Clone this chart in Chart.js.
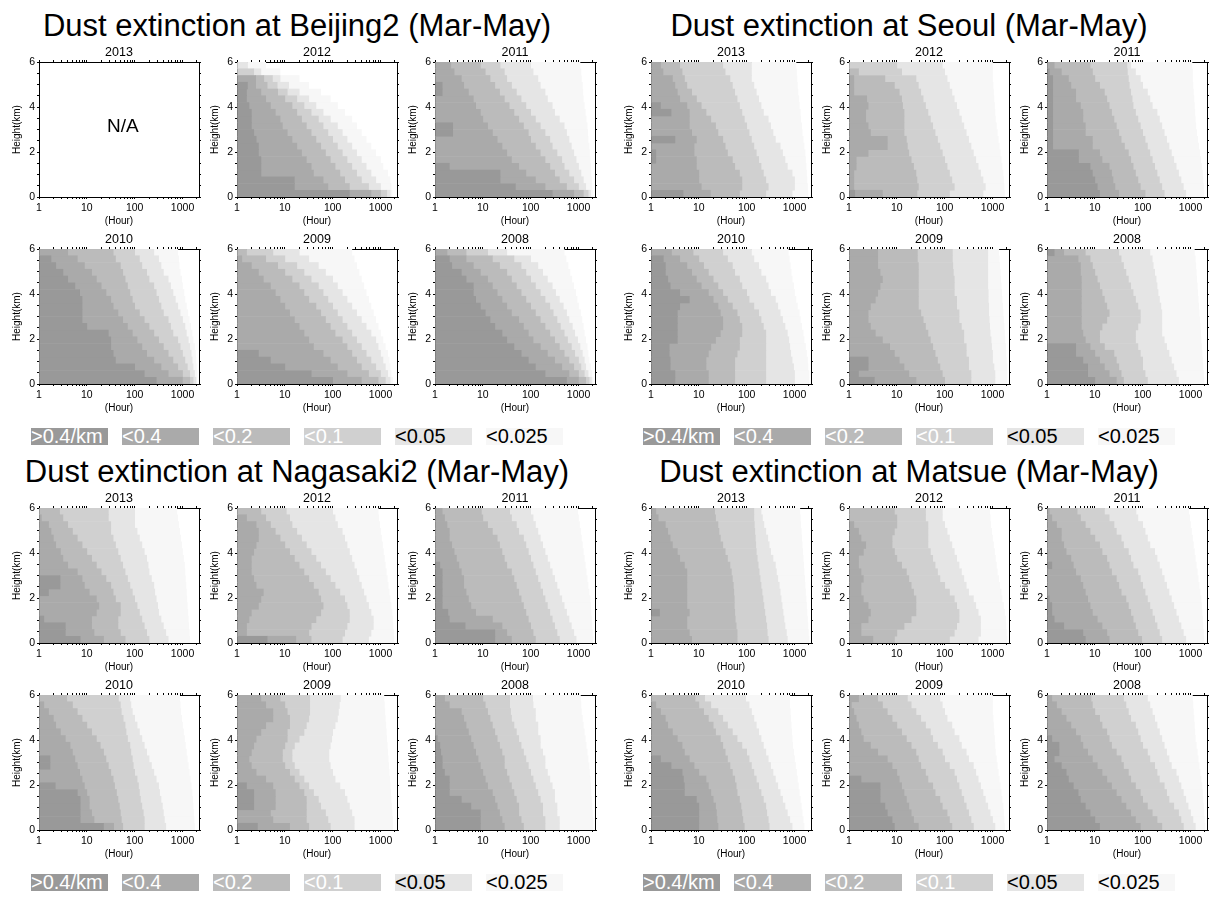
<!DOCTYPE html>
<html>
<head>
<meta charset="utf-8">
<script src="https://cdn.jsdelivr.net/npm/chart.js@4.4.1/dist/chart.umd.min.js"></script>
<style>
body { margin: 0; background: #fff; font-family: "Liberation Sans", Arial, sans-serif; }
#page { position: relative; width: 1211px; height: 897px; overflow: hidden; background: #fff; }
#page canvas { position: absolute; }
.title { position: absolute; width: 640px; text-align: center; font-size: 31px; line-height: 31px; white-space: nowrap; color: #000; }
.key { position: absolute; width: 77px; height: 17px; font-size: 20px; line-height: 17px; white-space: nowrap; overflow: visible; }
.na { position: absolute; font-size: 19px; line-height: 19px; color: #000; }
</style>
</head>
<body>
<div id="page"></div>
<script>
const stations = ["Beijing2", "Seoul", "Nagasaki2", "Matsue"];
const years = ["2013", "2012", "2011", "2010", "2009", "2008"];
const levelLabels = [">0.4/km", "<0.4", "<0.2", "<0.1", "<0.05", "<0.025"];
const levelColors = ["#999999", "#aaaaaa", "#bbbbbb", "#d0d0d0", "#e5e5e5", "#f7f7f7"];
const levelTextColors = ["#fff", "#fff", "#fff", "#fff", "#000", "#000"];
// centre of each 0.3 km height bin (km)
const heights = [0.15, 0.45, 0.75, 1.05, 1.35, 1.65, 1.95, 2.25, 2.55, 2.85,
                 3.15, 3.45, 3.75, 4.05, 4.35, 4.65, 4.95, 5.25, 5.55, 5.85];
const hourTicks = [1, 10, 100, 1000];
const heightTicks = [0, 2, 4, 6];
const hourMax = 2208;   // hours in Mar-May

// each panel: hours (as log10) where the shade ends, per height bin bottom -> top
// rows: >0.4, >0.2, >0.1, >0.05, >0.025, all observed hours
const beijing2012 = [
  [2.35,1.2,1.2,0.5,0.5,0.5,0.45,0.45,0.4,0.35, 0.3,0.3,0.3,0.25,0.2,0.2,0.22,0,0,0],
  [2.8,1.9,1.8,1.6,1.55,1.45,1.35,1.25,1.15,1.05, 0.95,0.9,0.8,0.7,0.6,0.5,0.39,0.39,0,0],
  [3.0,2.35,2.25,2.15,2.05,1.95,1.85,1.75,1.65,1.55, 1.45,1.35,1.25,1.15,1.0,0.85,0.63,0.56,0,0],
  [3.13,2.75,2.6,2.5,2.4,2.3,2.2,2.1,2.0,1.9, 1.8,1.7,1.55,1.4,1.25,1.05,0.84,0.74,0.35,0],
  [3.2,3.0,2.9,2.8,2.7,2.6,2.5,2.4,2.3,2.2, 2.1,1.95,1.8,1.65,1.5,1.3,1.08,0.9,0.5,0.22],
  [3.24,3.22,3.2,3.15,3.05,3.0,2.9,2.8,2.7,2.6, 2.5,2.4,2.25,2.1,1.95,1.75,1.5,1.3,0.9,0.6]
];
const beijing2011 = [
  [2.45,1.68,1.36,1.36,0.3,0,0,0,0,0.37, 0.37,0,0,0,0,0.15,0.15,0,0,0],
  [2.9,2.3,2.1,1.9,1.75,1.6,1.5,1.4,1.3,1.2, 1.1,1.0,0.95,0.85,0.8,0.7,0.6,0.55,0.4,0.33],
  [3.1,2.75,2.6,2.5,2.4,2.3,2.2,2.1,2.0,1.95, 1.85,1.75,1.65,1.55,1.45,1.35,1.25,1.15,1.05,0.95],
  [3.2,3.0,2.9,2.8,2.7,2.65,2.55,2.45,2.4,2.3, 2.2,2.1,2.0,1.9,1.8,1.7,1.6,1.5,1.45,1.36],
  [3.25,3.15,3.1,3.05,3.0,2.95,2.9,2.85,2.8,2.75, 2.7,2.6,2.5,2.45,2.35,2.3,2.2,2.15,2.05,2.0],
  [3.3,3.28,3.27,3.26,3.25,3.24,3.23,3.22,3.2,3.19, 3.18,3.16,3.14,3.12,3.1,3.09,3.08,3.06,3.05,3.03]
];
const beijing2010 = [
  [2.45,2.2,2.0,1.6,1.55,1.5,1.5,1.45,1.0,0.9, 0.9,0.9,0.9,0.85,0.75,0.6,0.5,0.35,0.25,0],
  [3.0,2.7,2.55,2.4,2.25,2.15,2.05,1.95,1.85,1.75, 1.65,1.55,1.5,1.4,1.3,1.2,1.1,0.95,0.8,0.6],
  [3.15,3.0,2.9,2.8,2.7,2.6,2.5,2.4,2.3,2.2, 2.1,2.0,1.95,1.9,1.85,1.8,1.75,1.7,1.6,1.55],
  [3.22,3.15,3.1,3.05,3.0,2.95,2.9,2.8,2.75,2.7, 2.6,2.55,2.5,2.45,2.4,2.3,2.25,2.15,2.1,2.0],
  [3.28,3.25,3.22,3.2,3.18,3.15,3.12,3.08,3.05,3.0, 2.95,2.9,2.85,2.8,2.75,2.7,2.6,2.55,2.5,2.4],
  [3.3,3.3,3.29,3.28,3.27,3.25,3.22,3.2,3.17,3.14, 3.11,3.08,3.05,3.03,3.0,2.98,2.95,2.93,2.92,2.9]
];
const beijing2009 = [
  [2.0,1.55,1.0,0.7,0.45,0,0,0,0,0, 0,0,0,0,0,0,0,0,0,0],
  [2.6,2.3,2.1,1.95,1.8,1.6,1.5,1.4,1.3,1.2, 1.1,1.0,0.9,0.8,0.7,0.55,0.45,0.3,0.1,0],
  [2.95,2.75,2.6,2.5,2.4,2.3,2.2,2.05,1.95,1.85, 1.75,1.65,1.5,1.4,1.3,1.15,1.0,0.85,0.6,0.2],
  [3.1,3.0,2.9,2.8,2.7,2.6,2.5,2.4,2.3,2.2, 2.1,2.0,1.9,1.8,1.7,1.55,1.4,1.25,1.0,0.75],
  [3.2,3.15,3.1,3.05,3.0,2.95,2.9,2.8,2.7,2.6, 2.5,2.4,2.3,2.2,2.1,2.0,1.85,1.7,1.5,1.3],
  [3.25,3.22,3.2,3.18,3.15,3.1,3.05,3.0,2.95,2.9, 2.85,2.8,2.75,2.7,2.65,2.6,2.55,2.5,2.45,2.4]
];
const beijing2008 = [
  [2.75,2.3,2.1,1.95,1.8,1.65,1.5,1.4,1.25,1.15, 1.05,0.95,0.85,0.8,0.8,0.65,0.55,0.35,0.3,0],
  [3.0,2.8,2.65,2.5,2.35,2.2,2.05,1.95,1.85,1.75, 1.6,1.5,1.4,1.3,1.2,1.1,0.95,0.8,0.65,0.25],
  [3.15,3.0,2.9,2.8,2.7,2.6,2.5,2.4,2.3,2.2, 2.1,2.0,1.9,1.8,1.7,1.6,1.5,1.35,1.2,0.65],
  [3.22,3.12,3.05,3.0,2.92,2.85,2.77,2.7,2.62,2.55, 2.47,2.4,2.3,2.2,2.1,2.0,1.9,1.8,1.65,1.1],
  [3.27,3.2,3.15,3.12,3.08,3.03,2.98,2.92,2.87,2.8, 2.75,2.68,2.6,2.52,2.45,2.35,2.25,2.15,2.0,1.5],
  [3.3,3.28,3.25,3.22,3.2,3.18,3.15,3.12,3.1,3.07, 3.04,3.0,2.97,2.94,2.9,2.86,2.82,2.78,2.74,2.7]
];
const seoul2013 = [
  [0.67,0,0,0,0,0.1,0.1,0,0.5,0, 0,0,0.42,0.2,0,0,0,0,0,0],
  [1.24,1.05,1.0,1.0,0.95,0.95,0.9,0.9,0.95,0.85, 0.8,0.8,0.8,0.75,0.6,0.55,0.5,0.45,0.25,0.2],
  [1.85,1.9,1.9,1.85,1.75,1.7,1.6,1.55,1.5,1.4, 1.35,1.25,1.15,1.05,0.95,0.85,0.75,0.7,0.65,0.6],
  [2.4,2.45,2.4,2.35,2.3,2.25,2.2,2.15,2.1,2.05, 2.0,1.95,1.9,1.85,1.8,1.75,1.7,1.65,1.55,1.5],
  [2.95,3.0,3.0,2.95,2.85,2.8,2.75,2.7,2.6,2.55, 2.5,2.45,2.35,2.3,2.25,2.2,2.15,2.1,2.1,2.1],
  [3.28,3.27,3.26,3.25,3.24,3.23,3.22,3.2,3.18,3.16, 3.15,3.13,3.12,3.1,3.09,3.07,3.06,3.05,3.04,3.03]
];
const seoul2012 = [
  [0.12,0,0,0,0,0,0,0,0,0, 0,0,0,0,0,0,0,0,0,0],
  [0.7,0.1,0.1,0.1,0.15,0.15,0.4,0.8,0.8,0.45, 0.4,0.35,0.35,0.4,0.37,0.1,0.1,0.1,0,0],
  [1.42,1.45,1.42,1.4,1.35,1.3,1.25,1.22,1.2,1.15, 1.15,1.15,1.15,1.12,1.1,1.05,0.95,0.75,0.2,0],
  [2.1,2.2,2.15,2.1,2.05,2.0,1.95,1.9,1.85,1.8, 1.75,1.7,1.65,1.6,1.55,1.5,1.45,1.4,1.1,1.0],
  [2.8,2.85,2.8,2.75,2.7,2.65,2.6,2.55,2.5,2.45, 2.4,2.35,2.3,2.25,2.2,2.15,2.1,2.05,2.0,1.95],
  [3.25,3.24,3.23,3.22,3.2,3.18,3.16,3.14,3.12,3.1, 3.08,3.06,3.05,3.04,3.03,3.02,3.01,3.0,3.0,3.0]
];
const seoul2011 = [
  [1.1,1.05,1.0,0.95,0.9,0.66,0.66,0.12,0.12,0.12, 0.12,0.12,0.12,0.12,0.12,0.12,0.12,0.12,0.05,0],
  [1.5,1.42,1.38,1.35,1.3,1.15,1.1,0.95,0.95,0.8, 0.8,0.75,0.75,0.7,0.6,0.6,0.5,0.45,0.3,0.15],
  [2.05,1.95,1.9,1.85,1.8,1.75,1.7,1.62,1.55,1.5, 1.45,1.4,1.35,1.3,1.25,1.2,1.1,1.0,0.95,0.9],
  [2.45,2.4,2.35,2.3,2.25,2.2,2.15,2.1,2.05,2.0, 1.95,1.9,1.85,1.8,1.78,1.75,1.72,1.7,1.68,1.67],
  [2.9,2.85,2.8,2.75,2.7,2.65,2.6,2.55,2.5,2.45, 2.4,2.35,2.3,2.2,2.15,2.1,2.0,1.95,1.85,1.75],
  [3.28,3.27,3.26,3.25,3.23,3.21,3.19,3.17,3.15,3.13, 3.11,3.1,3.09,3.08,3.07,3.06,3.05,3.04,3.04,3.03]
];
const seoul2010 = [
  [0.5,0.5,0.4,0.4,0.38,0.38,0.55,0.55,0.55,0.55, 0.55,0.6,0.8,0.6,0.4,0.35,0.3,0.3,0.26,0],
  [1.2,1.2,1.15,1.15,1.2,1.25,1.35,1.45,1.5,1.5, 1.45,1.4,1.3,1.2,1.05,0.95,0.85,0.75,0.6,0.43],
  [1.75,1.75,1.75,1.75,1.8,1.85,1.85,1.9,1.9,1.85, 1.8,1.7,1.6,1.5,1.4,1.3,1.2,1.1,1.0,0.88],
  [2.4,2.4,2.4,2.4,2.4,2.4,2.4,2.4,2.35,2.3, 2.25,2.15,2.05,2.0,1.9,1.85,1.75,1.7,1.6,1.5],
  [3.0,3.0,2.98,2.95,2.92,2.9,2.88,2.85,2.8,2.75, 2.7,2.65,2.6,2.5,2.45,2.4,2.3,2.25,2.15,2.1],
  [3.3,3.3,3.28,3.27,3.25,3.23,3.2,3.18,3.15,3.12, 3.1,3.06,3.03,3.0,2.98,2.95,2.93,2.91,2.89,2.87]
];
const seoul2009 = [
  [0.53,0.2,0.4,0.4,0,0,0,0,0,0, 0,0,0,0,0,0,0,0,0,0],
  [1.4,1.25,1.15,1.05,0.95,0.85,0.7,0.55,0.45,0.4, 0.4,0.45,0.55,0.6,0.65,0.7,0.65,0.6,0.6,0.6],
  [2.0,1.95,1.9,1.85,1.8,1.75,1.7,1.65,1.6,1.55, 1.5,1.45,1.45,1.45,1.45,1.45,1.45,1.45,1.43,1.43],
  [2.55,2.55,2.5,2.5,2.45,2.45,2.4,2.4,2.35,2.3, 2.3,2.25,2.25,2.2,2.2,2.2,2.18,2.17,2.16,2.16],
  [3.05,3.05,3.03,3.0,3.0,2.98,2.97,2.95,2.94,2.93, 2.92,2.92,2.91,2.91,2.9,2.9,2.9,2.9,2.9,2.9],
  [3.3,3.3,3.3,3.29,3.28,3.27,3.26,3.25,3.24,3.23, 3.22,3.21,3.2,3.19,3.18,3.17,3.16,3.15,3.14,3.13]
];
const seoul2008 = [
  [1.0,0.85,0.85,0.75,0.6,0.6,0,0,0,0, 0,0,0,0,0,0,0,0,0,0.15],
  [1.45,1.3,1.2,1.1,1.0,0.9,0.8,0.75,0.72,0.72, 0.72,0.72,0.72,0.72,0.72,0.72,0.7,0.7,0.65,0.35],
  [1.6,1.55,1.5,1.45,1.4,1.2,1.1,1.1,1.15,1.25, 1.3,1.25,1.2,1.15,1.1,1.05,1.0,0.95,0.9,0.8],
  [2.1,2.05,2.0,2.0,1.95,1.9,1.85,1.85,1.9,1.95, 1.95,1.9,1.85,1.8,1.75,1.7,1.65,1.6,1.55,1.5],
  [2.75,2.7,2.65,2.6,2.55,2.5,2.45,2.4,2.4,2.4, 2.4,2.38,2.35,2.32,2.3,2.28,2.25,2.22,2.2,2.15],
  [3.28,3.27,3.26,3.25,3.24,3.23,3.22,3.21,3.2,3.19, 3.18,3.17,3.16,3.15,3.14,3.13,3.12,3.11,3.1,3.08]
];
const nagasaki2013 = [
  [0.86,0.55,0.55,0.1,0,0,0,0.2,0.44,0.44, 0,0,0,0,0,0,0,0,0,0],
  [1.35,1.15,1.1,1.1,1.2,1.25,1.2,1.05,0.95,0.9, 0.8,0.6,0.5,0.45,0.35,0.3,0.25,0.2,0.05,0],
  [1.8,1.7,1.65,1.65,1.7,1.7,1.6,1.55,1.5,1.4, 1.3,1.2,1.1,1.0,0.9,0.8,0.7,0.6,0.5,0.43],
  [2.3,2.25,2.2,2.15,2.1,2.05,2.0,1.95,1.9,1.85, 1.8,1.75,1.7,1.65,1.6,1.55,1.5,1.5,1.45,1.45],
  [2.7,2.65,2.6,2.55,2.5,2.48,2.45,2.42,2.4,2.35, 2.3,2.28,2.25,2.2,2.15,2.1,2.05,2.0,2.0,2.0],
  [3.15,3.14,3.13,3.12,3.11,3.1,3.09,3.08,3.07,3.06, 3.05,3.04,3.02,3.0,2.98,2.96,2.94,2.92,2.9,2.88]
];
const nagasaki2012 = [
  [0.63,0,0,0,0,0,0,0,0,0, 0,0,0,0,0,0,0,0,0,0],
  [1.23,0.2,0.2,0.25,0.3,0.45,0.5,0.55,0.4,0.35, 0.3,0.3,0.3,0.35,0.4,0.45,0.45,0.4,0.2,0],
  [1.55,1.5,1.55,1.65,1.75,1.8,1.75,1.7,1.6,1.5, 1.4,1.3,1.2,1.1,1.0,0.9,0.8,0.7,0.6,0.5],
  [2.2,2.25,2.3,2.35,2.35,2.3,2.25,2.15,2.05,1.95, 1.85,1.75,1.65,1.55,1.45,1.35,1.25,1.15,1.1,1.03],
  [2.75,2.8,2.85,2.85,2.8,2.75,2.7,2.65,2.6,2.55, 2.5,2.45,2.4,2.35,2.3,2.25,2.2,2.1,2.05,2.0],
  [3.28,3.27,3.26,3.25,3.24,3.22,3.2,3.18,3.16,3.14, 3.12,3.1,3.08,3.06,3.04,3.02,3.0,2.98,2.96,2.95]
];
const nagasaki2011 = [
  [1.25,1.25,0.63,0.3,0.27,0.15,0.15,0.15,0.15,0.15, 0.15,0.1,0,0,0,0,0,0,0,0],
  [1.6,1.5,1.4,1.2,0.85,0.75,0.7,0.65,0.6,0.6, 0.55,0.5,0.45,0.4,0.35,0.3,0.3,0.25,0.2,0.15],
  [2.1,2.05,2.0,1.95,1.9,1.85,1.8,1.75,1.7,1.65, 1.6,1.5,1.45,1.4,1.35,1.3,1.2,1.1,1.0,0.97],
  [2.6,2.55,2.5,2.45,2.4,2.35,2.3,2.25,2.2,2.15, 2.1,2.05,2.0,1.95,1.9,1.85,1.75,1.7,1.6,1.56],
  [2.95,2.9,2.85,2.8,2.75,2.7,2.65,2.6,2.55,2.5, 2.45,2.4,2.35,2.3,2.25,2.2,2.15,2.1,2.05,2.0],
  [3.3,3.29,3.28,3.27,3.26,3.25,3.24,3.22,3.2,3.18, 3.16,3.14,3.12,3.1,3.08,3.06,3.04,3.02,3.0,2.98]
];
const nagasaki2010 = [
  [1.35,0.86,0.86,0.86,0.86,0.8,0.34,0,0,0.23, 0.23,0,0,0,0,0,0,0,0,0],
  [1.56,1.15,1.1,1.05,1.05,1.0,0.95,0.9,0.85,0.8, 0.75,0.7,0.65,0.55,0.45,0.35,0.3,0.2,0.1,0],
  [1.75,1.72,1.7,1.68,1.65,1.62,1.58,1.55,1.5,1.45, 1.4,1.35,1.28,1.2,1.1,1.0,0.9,0.8,0.7,0.58],
  [2.2,2.2,2.18,2.15,2.12,2.1,2.08,2.05,2.0,1.97, 1.95,1.92,1.9,1.85,1.82,1.8,1.76,1.72,1.7,1.66],
  [2.65,2.62,2.6,2.58,2.55,2.52,2.5,2.45,2.4,2.35, 2.3,2.25,2.2,2.15,2.1,2.05,2.0,1.95,1.92,1.9],
  [3.25,3.24,3.23,3.22,3.21,3.2,3.18,3.16,3.14,3.12, 3.1,3.08,3.06,3.04,3.02,3.0,2.98,2.96,2.95,2.94]
];
const nagasaki2009 = [
  [0.43,0,0,0.35,0.35,0.35,0.2,0,0,0, 0,0,0,0,0,0,0,0,0,0],
  [1.1,0.75,0.7,0.8,0.8,0.8,0.75,0.6,0.4,0.3, 0.25,0.3,0.35,0.4,0.5,0.6,0.75,0.75,0.6,0.5],
  [1.5,1.45,1.45,1.45,1.45,1.4,1.3,1.2,1.1,1.0, 0.95,0.95,1.0,1.05,1.05,1.1,1.1,1.05,1.0,0.9],
  [1.95,1.9,1.85,1.75,1.7,1.6,1.5,1.4,1.3,1.2, 1.15,1.15,1.2,1.3,1.4,1.45,1.5,1.52,1.52,1.52],
  [2.45,2.45,2.4,2.35,2.3,2.25,2.15,2.05,2.0,1.95, 1.92,1.92,1.95,1.98,2.0,2.05,2.1,2.12,2.14,2.16],
  [3.25,3.25,3.24,3.23,3.22,3.21,3.2,3.19,3.18,3.17, 3.16,3.15,3.14,3.13,3.12,3.11,3.1,3.09,3.08,3.07]
];
const nagasaki2008 = [
  [0.95,0.95,0.95,0.75,0.55,0.3,0.3,0.3,0.2,0.15, 0.15,0.12,0.1,0.05,0,0,0,0,0,0],
  [1.45,1.4,1.35,1.3,1.25,1.2,1.1,1.05,1.0,0.95, 0.9,0.85,0.8,0.75,0.7,0.65,0.6,0.55,0.3,0.2],
  [1.85,1.8,1.75,1.75,1.7,1.65,1.6,1.55,1.5,1.45, 1.45,1.4,1.35,1.3,1.25,1.2,1.15,1.1,1.05,1.0],
  [2.3,2.3,2.25,2.25,2.2,2.15,2.1,2.05,2.0,1.95, 1.9,1.85,1.8,1.75,1.7,1.65,1.6,1.58,1.56,1.56],
  [2.6,2.6,2.55,2.55,2.5,2.5,2.45,2.4,2.35,2.3, 2.3,2.25,2.2,2.2,2.15,2.15,2.1,2.1,2.05,2.04],
  [3.3,3.3,3.29,3.28,3.27,3.26,3.25,3.24,3.23,3.22, 3.2,3.18,3.16,3.14,3.12,3.1,3.08,3.06,3.05,3.04]
];
const matsue2013 = [
  [0,0,0,0,0.18,0,0,0,0,0, 0,0,0,0,0,0,0,0,0,0],
  [0.85,0.8,0.75,0.75,0.8,0.75,0.75,0.75,0.75,0.75, 0.75,0.7,0.6,0.55,0.45,0.4,0.35,0.3,0.15,0.1],
  [1.8,1.8,1.78,1.76,1.75,1.74,1.74,1.73,1.72,1.7, 1.68,1.65,1.6,1.55,1.5,1.45,1.42,1.4,1.35,1.33],
  [2.45,2.43,2.42,2.4,2.38,2.36,2.34,2.32,2.3,2.28, 2.26,2.24,2.22,2.2,2.19,2.18,2.17,2.16,2.15,2.15],
  [2.85,2.83,2.8,2.78,2.76,2.74,2.72,2.7,2.68,2.65, 2.62,2.6,2.55,2.5,2.47,2.44,2.4,2.36,2.33,2.3],
  [3.3,3.29,3.28,3.27,3.26,3.25,3.24,3.23,3.22,3.21, 3.2,3.19,3.18,3.17,3.16,3.15,3.14,3.13,3.12,3.11]
];
const matsue2012 = [
  [0,0,0,0,0,0,0,0,0,0, 0,0,0,0,0,0,0,0,0,0],
  [0.5,0.25,0.25,0.4,0.45,0.4,0.3,0.25,0.25,0.3, 0.25,0.2,0.2,0.3,0.35,0.25,0.2,0.1,0,0],
  [0.95,1.0,1.15,1.3,1.4,1.4,1.4,1.35,1.3,1.25, 1.2,1.1,1.0,0.95,0.9,0.9,0.95,1.0,1.0,0.95],
  [2.1,2.2,2.25,2.3,2.3,2.25,2.2,2.1,2.0,1.9, 1.85,1.8,1.75,1.7,1.65,1.65,1.65,1.65,1.6,1.6],
  [2.7,2.75,2.75,2.75,2.7,2.65,2.6,2.5,2.45,2.4, 2.35,2.3,2.25,2.2,2.15,2.1,2.05,2.0,1.95,1.95],
  [3.3,3.29,3.28,3.27,3.25,3.23,3.2,3.18,3.15,3.13, 3.1,3.08,3.06,3.04,3.02,3.0,2.98,2.96,2.95,2.94]
];
const matsue2011 = [
  [0.8,0.75,0.35,0.15,0.1,0.1,0.05,0,0,0, 0,0.1,0,0,0,0,0,0,0,0],
  [1.3,1.25,1.15,1.05,0.95,0.9,0.85,0.8,0.75,0.7, 0.6,0.55,0.5,0.4,0.35,0.3,0.3,0.2,0.1,0.05],
  [1.98,1.9,1.85,1.8,1.75,1.7,1.65,1.55,1.5,1.45, 1.35,1.3,1.25,1.15,1.1,1.0,0.9,0.8,0.7,0.63],
  [2.4,2.35,2.3,2.25,2.2,2.15,2.1,2.05,2.0,1.95, 1.9,1.8,1.75,1.7,1.6,1.55,1.45,1.4,1.3,1.2],
  [2.9,2.85,2.8,2.75,2.7,2.65,2.6,2.55,2.5,2.45, 2.4,2.35,2.3,2.25,2.15,2.1,2.05,2.0,1.9,1.86],
  [3.28,3.27,3.26,3.25,3.24,3.23,3.22,3.2,3.18,3.16, 3.14,3.12,3.1,3.08,3.06,3.04,3.02,3.0,2.98,2.96]
];
const matsue2010 = [
  [1.0,1.0,1.0,1.0,0.95,0.7,0.7,0.68,0.65,0.42, 0.2,0,0,0,0,0,0,0,0,0],
  [1.4,1.38,1.37,1.35,1.3,1.25,1.2,1.15,1.0,0.9, 0.8,0.7,0.65,0.55,0.45,0.35,0.3,0.2,0.1,0],
  [1.95,1.92,1.9,1.88,1.85,1.8,1.78,1.75,1.7,1.65, 1.6,1.55,1.5,1.45,1.35,1.3,1.2,1.1,1.0,0.92],
  [2.47,2.45,2.42,2.4,2.35,2.3,2.25,2.2,2.15,2.1, 2.05,2.0,1.9,1.8,1.7,1.6,1.5,1.4,1.25,1.12],
  [2.95,2.9,2.85,2.8,2.75,2.7,2.65,2.6,2.55,2.5, 2.45,2.4,2.35,2.3,2.25,2.2,2.15,2.1,2.05,1.98],
  [3.2,3.18,3.16,3.14,3.12,3.1,3.08,3.06,3.04,3.02, 3.0,2.98,2.96,2.95,2.94,2.93,2.92,2.91,2.9,2.9]
];
const matsue2009 = [
  [0.95,0.9,0.8,0.75,0.65,0.65,0.65,0.25,0,0, 0,0,0,0,0,0,0,0,0,0],
  [1.45,1.35,1.3,1.25,1.2,1.15,1.1,1.05,1.0,0.9, 0.8,0.6,0.45,0.3,0.25,0.2,0.15,0.1,0.05,0.2],
  [2.15,2.1,2.05,1.95,1.9,1.8,1.75,1.65,1.6,1.5, 1.45,1.4,1.3,1.2,1.1,1.0,0.9,0.8,0.7,0.6],
  [2.6,2.55,2.5,2.45,2.4,2.35,2.3,2.25,2.2,2.1, 2.0,1.95,1.85,1.75,1.7,1.6,1.5,1.4,1.3,1.22],
  [3.05,3.0,2.95,2.9,2.85,2.8,2.75,2.7,2.65,2.6, 2.5,2.45,2.35,2.3,2.2,2.15,2.05,2.0,1.95,1.9],
  [3.25,3.24,3.23,3.22,3.2,3.18,3.16,3.14,3.12,3.1, 3.08,3.06,3.05,3.04,3.03,3.02,3.01,3.0,3.0,3.0]
];
const matsue2008 = [
  [1.1,1.0,0.9,0.8,0.7,0.65,0.55,0.45,0.4,0.3, 0.15,0.25,0.25,0.1,0,0,0,0,0,0],
  [1.95,1.85,1.75,1.65,1.55,1.45,1.35,1.25,1.15,1.05, 0.95,0.85,0.75,0.7,0.6,0.5,0.4,0.3,0.2,0.1],
  [2.4,2.3,2.2,2.1,2.0,1.95,1.85,1.75,1.7,1.6, 1.55,1.45,1.35,1.3,1.25,1.15,1.1,1.0,0.95,0.92],
  [2.85,2.8,2.75,2.65,2.55,2.5,2.45,2.35,2.3,2.25, 2.15,2.1,2.0,1.95,1.9,1.85,1.75,1.7,1.65,1.6],
  [3.1,3.05,3.0,2.95,2.9,2.85,2.8,2.75,2.7,2.6, 2.55,2.5,2.45,2.4,2.35,2.3,2.25,2.2,2.15,2.1],
  [3.3,3.29,3.28,3.27,3.26,3.25,3.24,3.22,3.2,3.18, 3.16,3.14,3.12,3.1,3.09,3.08,3.07,3.06,3.05,3.04]
];

// panels per station, in the order of `years`; null = no data
const panelData = [
  [null, beijing2012, beijing2011, beijing2010, beijing2009, beijing2008],
  [seoul2013, seoul2012, seoul2011, seoul2010, seoul2009, seoul2008],
  [nagasaki2013, nagasaki2012, nagasaki2011, nagasaki2010, nagasaki2009, nagasaki2008],
  [matsue2013, matsue2012, matsue2011, matsue2010, matsue2009, matsue2008]
];

// layout (px)
const blockLeft = [0, 612];
const blockTop = [0, 446];
const colLeft = [39, 237, 435];
const rowTop = [62, 249];
const plotW = 160, plotH = 135;
const padL = 28, padR = 5, padT = 18, padB = 30;

Chart.defaults.font.family = '"Liberation Sans", Arial, sans-serif';
Chart.defaults.color = "#000";

const page = document.getElementById("page");
const xMax = Math.log10(hourMax);

// axis tick positions on the log10(hour) axis: decades plus 2..9 minor marks
const hourTickPos = [];
for (let d = 0; d < 4; d++) {
  for (let k = 1; k < 10; k++) {
    const v = d + Math.log10(k);
    if (v <= xMax) hourTickPos.push(v);
  }
}
function hourLabel(v) {
  const i = hourTicks.findIndex(h => Math.abs(Math.log10(h) - v) < 1e-9);
  return i >= 0 ? String(hourTicks[i]) : "";
}

function panelDatasets(rows) {
  return levelColors.map((color, k) => {
    const data = [];
    if (rows) {
      heights.forEach((h, i) => {
        let start = 0;
        for (let j = 0; j < k; j++) start = Math.max(start, rows[j][i]);
        const end = Math.max(start, rows[k][i]);
        if (end - start > 0.001) data.push({ y: h, x: [start, end] });
      });
    }
    return {
      label: levelLabels[k],
      data: data,
      backgroundColor: color,
      borderWidth: 0,
      grouped: false,
      barPercentage: 1,
      categoryPercentage: 1
    };
  });
}

const tickGrid = { display: true, drawOnChartArea: false, drawTicks: true, tickLength: 2, color: "#000", lineWidth: 1, offset: false };
const axisBorder = { display: true, color: "#000", width: 1 };

function makePanel(left, top, rows, year) {
  const cvs = document.createElement("canvas");
  const w = padL + plotW + padR, h = padT + plotH + padB;
  cvs.width = w; cvs.height = h;
  cvs.style.width = w + "px"; cvs.style.height = h + "px";
  cvs.style.left = (left - padL) + "px";
  cvs.style.top = (top - padT) + "px";
  page.appendChild(cvs);

  new Chart(cvs.getContext("2d"), {
    type: "bar",
    data: { datasets: panelDatasets(rows) },
    options: {
      indexAxis: "y",
      responsive: false,
      devicePixelRatio: 1,
      animation: false,
      events: [],
      layout: { padding: 0 },
      plugins: { legend: { display: false }, tooltip: { enabled: false } },
      scales: {
        x: {
          type: "linear", position: "bottom", min: 0, max: xMax, offset: false,
          afterBuildTicks: s => { s.ticks = hourTickPos.map(v => ({ value: v })); },
          afterFit: s => { s.height = padB; },
          ticks: { autoSkip: false, maxRotation: 0, padding: 3, font: { size: 10.5 }, callback: v => hourLabel(v) },
          grid: tickGrid, border: axisBorder,
          title: { display: true, text: "(Hour)", font: { size: 10, weight: "normal" }, padding: 0 }
        },
        x2: {
          type: "linear", position: "top", min: 0, max: xMax, offset: false,
          afterBuildTicks: s => { s.ticks = hourTickPos.map(v => ({ value: v })); },
          afterFit: s => { s.height = padT; },
          ticks: { autoSkip: false, maxRotation: 0, callback: () => "" },
          grid: tickGrid, border: axisBorder,
          title: { display: true, text: year, font: { size: 12.5, weight: "normal" }, padding: { top: 1, bottom: 0 } }
        },
        y: {
          type: "linear", position: "left", min: 0, max: 6, offset: false,
          afterFit: s => { s.width = padL; },
          ticks: { stepSize: 0.5, autoSkip: false, padding: 2, font: { size: 10.5 }, callback: v => heightTicks.includes(v) ? String(v) : "" },
          grid: tickGrid, border: axisBorder,
          title: { display: true, text: "Height(km)", font: { size: 10, weight: "normal" }, padding: 0 }
        },
        y2: {
          type: "linear", position: "right", min: 0, max: 6, offset: false,
          afterFit: s => { s.width = padR; },
          ticks: { stepSize: 0.5, autoSkip: false, callback: () => "" },
          grid: tickGrid, border: axisBorder
        }
      }
    }
  });
}

stations.forEach((name, s) => {
  const bx = blockLeft[s % 2], by = blockTop[Math.floor(s / 2)];

  const t = document.createElement("div");
  t.className = "title";
  t.textContent = "Dust extinction at " + name + " (Mar-May)";
  t.style.left = (bx + 297 - 320) + "px";
  t.style.top = (by + 10) + "px";
  page.appendChild(t);

  years.forEach((yr, p) => {
    const left = bx + colLeft[p % 3], top = by + rowTop[Math.floor(p / 3)];
    const rows = panelData[s][p];
    makePanel(left, top, rows, yr);
    if (!rows) {
      const na = document.createElement("div");
      na.className = "na";
      na.textContent = "N/A";
      na.style.left = (left + 68) + "px";
      na.style.top = (top + 54) + "px";
      page.appendChild(na);
    }
  });

  levelLabels.forEach((lab, k) => {
    const key = document.createElement("div");
    key.className = "key";
    key.textContent = lab;
    key.style.background = levelColors[k];
    key.style.color = levelTextColors[k];
    key.style.left = (bx + 31 + 91 * k) + "px";
    key.style.top = (by + 428) + "px";
    page.appendChild(key);
  });
});
</script>
</body>
</html>
